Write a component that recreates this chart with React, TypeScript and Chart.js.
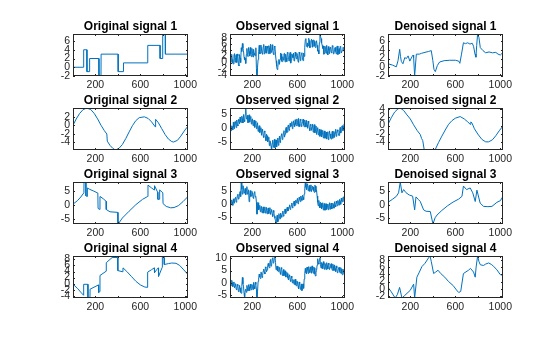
import React, { useEffect, useRef } from 'react';
import { Chart, registerables } from 'chart.js';

Chart.register(...registerables);

// ---------- layout ----------
const COL_LEFT = [73, 230, 388];
const ROW_TOP = [34, 108, 182, 256];
const AX_W = 115;
const AX_H = 42;
const M_L = 42, M_T = 24, M_R = 18, M_B = 16;

const FONT = '"Liberation Sans", Arial, Helvetica, sans-serif';
const LINE = '#0072BD';
const AXIS = '#262626';

// ---------- shared x axis ----------
const X_MIN = 1;
const X_MAX = 1024;
const X_TICKS = [200, 400, 600, 800, 1000];
const X_TICK_LABELS = ['200', '', '600', '', '1000'];
// observed samples: set A at 1, 11, 21, ...; set B at 6, 16, 26, ...
const OBS_A_X0 = 1;
const OBS_B_X0 = 6;
const OBS_STEP = 10;

// ---------- Original signals ----------
const orig1X = [1, 95, 96, 124, 125, 148, 149, 231, 232, 250, 251, 402, 403, 449, 450, 665, 666, 775, 776, 798, 799, 822, 823, 1024];
const orig1Y = [0, 0, 4, 4, -1, -1, 2, 2, -2, -2, 3, 3, -1, -1, 1, 1, 5, 5, 2, 2, 7.6, 7.6, 3, 3];

const orig2X = [1, 30, 60, 90, 124, 160, 190, 220, 250, 280, 302, 306, 330, 355, 378, 410, 440, 470, 500, 530, 560, 590, 636, 670, 700, 733, 736, 760, 790, 820, 850, 880, 896, 930, 960, 990, 1024];
const orig2Y = [0.0, 1.5, 2.8, 3.7, 4.1, 3.7, 2.8, 1.5, 0.0, -1.3, -2.1, -3.8, -4.8, -5.5, -5.9, -5.5, -4.6, -3.2, -1.6, -0.1, 1.1, 1.8, 2.0, 1.6, 0.8, -0.4, 1.4, 0.6, -0.8, -2.2, -3.3, -3.9, -4.0, -3.6, -2.6, -1.4, -0.2];

const orig3X = [1, 40, 70, 98, 99, 115, 116, 128, 129, 150, 180, 222, 224, 240, 241, 270, 296, 297, 330, 399, 401, 403, 440, 500, 560, 620, 665, 668, 700, 724, 726, 754, 756, 770, 772, 800, 802, 830, 870, 900, 940, 980, 1024];
const orig3Y = [0.3, 1.5, 2.8, 4.3, 8.1, 7.8, 3.2, 3.0, 6.0, 5.5, 5.0, 4.2, -1.2, -1.6, 3.0, 2.2, 1.3, -1.6, -2.4, -2.6, -6.7, -6.7, -4.6, -2.2, 0.1, 2.0, 3.0, 7.0, 6.0, 5.3, 6.8, 4.5, 2.0, 2.0, 5.3, 4.3, 0.5, -0.5, -1.0, -0.9, -0.2, 1.2, 3.0];

const orig4X = [1, 40, 70, 95, 96, 133, 134, 152, 153, 228, 229, 240, 241, 296, 297, 349, 399, 400, 445, 446, 480, 520, 560, 600, 640, 664, 665, 700, 724, 726, 745, 760, 762, 795, 796, 812, 813, 850, 880, 917, 950, 980, 1024];
const orig4Y = [-0.2, -1.5, -2.8, -3.8, -0.2, -0.2, -4.7, -4.7, -1.8, -0.4, -2.9, -2.6, 2.7, 4.1, 6.9, 8.6, 8.6, 4.3, 3.9, 5.2, 4.0, 2.4, 0.8, -0.4, -1.1, -1.2, 3.8, 4.6, 5.2, 3.6, 4.6, 5.2, 2.4, 5.4, 9.1, 8.6, 6.3, 6.6, 6.8, 6.7, 6.0, 4.8, 3.0];

// ---------- Observed signals ----------
const obs1A = [
  2.5, 0.3, 1.0, -0.5, 2.9, 1.6, 0.0, 2.1, -1.1, 1.4,
  4.8, 6.2, 3.9, 0.8, -0.3,
  4.6, 2.0, 3.6, 4.9, 1.9, 3.0, 4.3, 2.4, 4.8,
  -4.4, 1.0,
  5.6, 3.1, 4.4, 2.7, 5.9, 4.0, 3.2, 5.3, 2.9, 4.7, 6.0, 3.4, 4.1, 2.6, 5.0,
  0.6, -2.3, 0.1, -0.6,
  3.1, 0.4, 1.9, 2.9, 0.2, 1.5, 3.3, 1.0, 2.4, -0.2, 2.8, 1.6, 0.5, 3.4, 1.2, 2.2, 0.1, 2.7, 1.8, 3.2, 0.6, 2.0,
  7.5, 5.2, 6.4, 7.9, 4.8, 6.0, 7.2, 5.5, 6.9, 4.9, 7.1,
  3.7, 2.8, 9.3, 7.8, 5.6,
  5.4, 3.0, 4.2, 5.6, 2.5, 3.9, 4.8, 3.2, 5.5, 2.8, 4.3, 3.6, 5.1, 2.6, 4.5, 5.3, 3.1, 4.0, 4.9, 3.3,
];
const obs1B = [
  -0.4, 2.7, -0.2, 2.4, 0.1, 2.6, 2.8, -0.7, 2.6, 0.0,
  3.6, 4.6, 1.8, 1.4, 2.6, 2.2, 4.9, 2.1, 2.8, 4.6,
  1.8, 3.0, 2.2, -2.0, -1.5, 3.5, 2.8, 5.7, 3.0, 5.2,
  2.8, 5.4, 3.0, 4.8, 5.5, 2.9, 3.3, 5.8, 2.9, 5.3,
  2.5, -1.2, -1.6, 1.0, 1.0, 2.8, 0.3, 0.8, 3.0, 2.7,
  0.3, 3.0, 0.5, 3.3, 0.9, 2.4, 3.1, 0.8, 2.1, 3.0,
  0.4, 3.4, 0.6, 2.9, 0.9, 3.1, 5.0, 7.8, 5.0, 5.4,
  7.2, 5.1, 7.6, 5.0, 7.4, 5.3, 6.2, 5.6, 4.1, 6.5,
  8.6, 6.4, 4.6, 2.7, 5.3, 3.0, 3.6, 5.2, 2.9, 5.0,
  3.1, 5.2, 3.0, 4.9, 2.8, 5.4, 3.5, 2.9, 5.2, 3.1,
  5.0, 3.8,
];

const obs2A = [
  1.0, -0.9, 0.6, 2.2, -0.2, 1.9, 3.0, 0.8, 2.6, 4.1,
  2.1, 3.5, 5.0, 2.4, 7.4, 3.3, 2.0, 4.9, 3.6, 1.5,
  3.4, 1.8, 0.3, 2.6, 1.0, -1.2, 0.9, -0.3, -2.6, -1.0,
  -3.4, -1.5, -4.6, -2.8, -4.0, -6.4, -5.1, -8.0, -4.4, -6.0,
  -7.2, -4.3, -5.2, -6.3, -2.9, -4.1, -2.0, -3.6, -0.9, -2.2,
  0.3, -1.4, 1.2, -0.1, 0.6, 2.4, 0.3, 1.6, 3.1, 0.9,
  2.2, 3.6, 0.6, 2.8, 1.4, 3.3, 0.5, 2.0, 2.9, 0.0,
  1.7, -0.9, 1.0, 0.4, -1.5, 1.3, -0.6, -2.3, 0.2, -1.8,
  -3.0, -0.6, -2.1, -3.6, -1.0, -2.8, -4.0, -1.3, -3.2, -2.2,
  -4.0, -1.1, -2.5, -3.4, -0.4, -2.0, -1.2, -2.7, 0.3, -1.0,
  0.9, -0.5, 1.5,
];
const obs2B = [
  1.3, 0.8, -0.6, 0.4, 2.4, 0.2, 1.3, 3.2, 1.6, 2.2,
  4.4, 1.9, 3.0, 5.1, 3.6, 4.7, 2.3, 2.2, 4.3, 3.2,
  0.9, 3.0, 2.0, -0.2, 2.0, 0.1, -1.6, 0.2, -0.4, -2.8,
  -1.0, -3.3, -2.2, -5.0, -3.3, -4.6, -6.7, -5.5, -7.0, -4.1,
  -5.0, -6.9, -3.6, -4.6, -5.3, -2.6, -4.2, -1.6, -3.3, -0.2,
  -1.6, 0.8, -0.8, 1.8, 1.0, -0.2, 2.7, 0.6, 1.4, 3.4,
  0.7, 1.5, 3.3, 0.6, 2.4, 1.2, 3.0, 0.4, 1.2, 2.6,
  0.0, 1.4, -0.8, 1.5, 0.3, -1.7, 0.8, -0.9, -2.5, -0.4,
  -1.8, -3.2, -0.8, -2.0, -3.7, -1.4, -2.3, -4.2, -1.0, -3.6,
  -2.0, -3.7, -1.2, -1.8, -3.0, -0.6, -2.6, -0.8, -1.8, 0.8,
  -0.9, 1.6,
];

const obs3A = [
  1.6, -0.2, 0.9, 2.1, 0.4, 2.7, 1.5, 3.9, 2.2, 4.9,
  8.4, 3.9, 6.6, 4.8, 3.7, 6.8, 4.4, 1.0, 5.3, 3.2,
  4.6, 2.3, 4.9, 3.0, -3.8, 0.6, -1.4, -2.9, -0.8, -2.3,
  -3.4, -1.0, -2.6, -3.7, -1.4, -2.2, -3.9, -2.0, -4.7, -3.1,
  -5.4, -7.6, -4.2, -6.0, -4.8, -3.4, -5.0, -2.6, -3.9, -1.8,
  -2.9, -1.1, -2.3, -0.2, -1.5, 0.5, -0.8, 1.2, -0.2, 0.6,
  2.3, 0.8, 1.9, 3.2, 1.5, 2.6, 4.0, 8.6, 5.6, 7.3,
  6.2, 5.0, 7.5, 5.8, 6.6, 4.6, 7.0, 5.4, 0.8, 1.5,
  -1.4, 0.4, -0.9, -2.2, 0.3, -1.2, -2.0, 0.1, -0.7, -1.9,
  0.5, -1.3, -0.2, 1.0, -1.0, 0.4, 1.5, -0.3, 1.1, 2.4,
  0.9, 2.9, 1.7,
];
const obs3B = [
  0.1, 1.7, -0.4, 0.9, 2.4, 0.8, 3.3, 2.0, 4.1, 3.0,
  5.9, 7.2, 4.3, 6.1, 5.5, 3.9, 5.6, 3.4, 3.0, 5.0,
  2.6, 4.5, 2.8, 0.8, -1.0, -2.2, -0.4, -1.6, -3.3, -1.0,
  -2.0, -3.4, -1.2, -2.4, -3.6, -1.3, -2.8, -3.8, -2.4, -4.6,
  -6.4, -5.3, -6.8, -3.6, -5.6, -4.3, -3.4, -4.6, -2.4, -3.6,
  -1.5, -2.6, -0.9, -2.0, -0.4, -1.4, 0.6, -0.7, 1.6, 1.4,
  0.2, 2.7, 1.0, 2.3, 3.5, 1.8, 6.0, 6.6, 7.9, 5.2,
  7.3, 6.4, 4.9, 7.0, 5.2, 7.4, 4.8, 3.2, -0.6, 0.0,
  0.8, -1.7, 0.6, -0.5, -2.3, 0.2, -0.9, -2.1, 0.6, -0.5,
  -1.8, 0.4, -1.5, -0.3, 1.2, -0.6, 0.4, 1.9, 0.0, 1.2,
  2.6, 1.0,
];

const obs4A = [
  0.9, -1.0, 0.2, -0.6, -2.0, -0.3, -2.8, -1.2, -3.6, -2.1,
  -4.2, 2.2, -1.3, -6.1, -2.5, -1.0, -3.2, -1.6, -0.5, -2.8,
  -1.4, 0.2, -2.4, -0.6, -5.8, 0.6, 3.6, 1.8, 4.2, 3.0,
  5.6, 3.6, 6.2, 5.3, 7.9, 6.1, 9.5, 7.0, 10.2, 8.3,
  10.9, 5.3, 6.8, 4.6, 6.2, 3.5, 5.6, 4.3, 2.9, 4.9,
  2.5, 3.8, 1.2, 3.3, 0.6, 2.1, 1.4, -0.6, 1.5, -1.2,
  0.5, -2.4, -0.6, -1.5, -3.1, -0.4, 1.6, 5.9, 3.6, 5.4,
  6.6, 4.2, 5.3, 6.9, 3.9, 6.1, 2.8, 5.0, 9.8, 7.6,
  10.2, 6.0, 7.7, 8.6, 5.5, 6.8, 8.2, 5.6, 7.4, 6.2,
  7.8, 5.1, 6.7, 7.3, 4.6, 6.0, 4.4, 6.3, 4.0, 5.6,
  3.3, 5.0, 4.4,
];
const obs4B = [
  -1.3, 1.1, -1.5, 0.4, -1.2, -2.6, -0.6, -3.5, -1.0, -3.8,
  -1.5, -0.4, -4.2, -3.0, -3.8, -2.2, -0.7, -3.1, -2.0, -0.6,
  -2.7, -1.4, 0.3, -2.6, -3.5, 2.1, 2.4, 4.4, 2.2, 4.8,
  4.4, 6.5, 4.5, 7.0, 6.8, 8.4, 6.8, 9.8, 8.0, 10.6,
  8.2, 6.7, 4.8, 6.5, 4.2, 6.2, 3.0, 5.4, 4.1, 2.4,
  4.3, 2.0, 2.8, 1.1, 2.8, 0.0, 0.6, 1.2, -0.8, 0.8,
  -1.4, 0.4, -2.6, -0.4, -1.0, -2.2, 3.8, 4.2, 6.4, 3.8,
  5.2, 6.5, 3.9, 5.1, 6.4, 3.6, 4.4, 7.2, 8.1, 9.4,
  7.4, 8.3, 5.8, 7.4, 7.9, 5.4, 7.0, 8.0, 5.4, 7.5,
  6.0, 7.6, 5.0, 5.8, 6.9, 4.1, 6.1, 4.6, 6.2, 3.8,
  5.6, 3.6,
];

// ---------- Denoised signals ----------
const den1X = [1, 40, 75, 90, 105, 112, 120, 134, 150, 165, 180, 195, 214, 225, 229, 238, 253, 280, 300, 330, 360, 386, 400, 410, 422, 440, 460, 500, 550, 600, 630, 640, 655, 672, 690, 710, 730, 750, 762, 775, 783, 790, 798, 810, 822, 846, 870, 900, 930, 960, 980, 1000, 1024];
const den1Y = [0.8, 0.5, 0.1, 1.5, 4.1, 2.5, 1.3, 0.8, 2.2, 2.0, 2.6, 1.4, 2.4, 2.8, 2.2, -2.0, 3.0, 3.0, 3.2, 3.4, 3.6, 3.8, 1.5, -0.5, -1.0, 0.4, 1.2, 1.5, 1.6, 1.6, 1.4, 0.9, 3.0, 5.6, 5.4, 5.6, 5.3, 5.5, 4.8, 3.0, 2.3, 5.0, 7.6, 6.8, 4.5, 3.8, 3.3, 3.5, 3.3, 3.4, 3.0, 2.8, 3.4];

const den2X = [1, 30, 60, 90, 110, 140, 170, 200, 228, 260, 288, 300, 310, 323, 350, 380, 421, 450, 480, 510, 540, 570, 600, 643, 680, 710, 732, 738, 748, 770, 800, 836, 870, 896, 930, 960, 990, 1024];
const den2Y = [0.3, 1.9, 3.3, 4.1, 4.3, 3.7, 2.6, 1.6, 0.2, -1.2, -2.2, -3.2, -3.7, -5.9, -6.0, -6.0, -5.9, -4.2, -2.6, -1.1, 0.3, 1.2, 1.8, 2.2, 1.6, 0.9, 0.3, 0.9, 0.6, -0.8, -2.1, -3.4, -4.0, -4.0, -3.5, -2.5, -1.3, -0.1];

const den3X = [1, 40, 75, 95, 110, 125, 140, 160, 190, 220, 238, 250, 270, 288, 318, 340, 377, 401, 420, 437, 480, 530, 580, 630, 659, 672, 700, 732, 755, 777, 792, 821, 851, 890, 926, 970, 1000, 1024];
const den3Y = [0.9, 2.0, 3.1, 4.4, 8.4, 4.4, 5.6, 4.5, 3.6, 3.2, -1.9, 2.9, 2.0, 1.2, -1.9, -2.4, -2.5, -7.1, -4.8, -3.8, -2.1, -0.4, 1.0, 2.1, 3.1, 6.9, 5.6, 6.2, 4.4, 1.2, 5.4, 0.6, -0.6, -0.7, -0.6, 0.9, 1.5, 3.1];

const den4X = [1, 30, 65, 85, 104, 125, 150, 199, 229, 238, 258, 280, 303, 330, 362, 375, 386, 407, 425, 446, 470, 506, 540, 581, 610, 630, 648, 672, 717, 735, 762, 777, 785, 798, 810, 822, 850, 870, 896, 920, 940, 970, 1000, 1024];
const den4Y = [0.4, -0.8, -2.5, -1.5, 0.4, -2.5, -1.8, -0.4, 1.3, -2.5, 3.2, 4.6, 6.1, 7.0, 8.5, 9.0, 7.5, 4.2, 4.6, 5.1, 4.2, 3.2, 2.0, 0.9, -0.3, -1.0, -0.7, 4.2, 5.1, 5.6, 4.6, 3.2, 6.0, 9.0, 7.5, 6.6, 6.4, 6.8, 7.1, 6.7, 6.2, 5.2, 3.9, 3.7];

// ---------- titles and y axes ----------
const TITLES = [
  'Original signal 1', 'Observed signal 1', 'Denoised signal 1',
  'Original signal 2', 'Observed signal 2', 'Denoised signal 2',
  'Original signal 3', 'Observed signal 3', 'Denoised signal 3',
  'Original signal 4', 'Observed signal 4', 'Denoised signal 4',
];
const Y_LIMITS: number[][] = [
  [-2, 7.6], [-4.4, 9.3], [-2, 7.6],
  [-5.9, 4.1], [-8.0, 7.4], [-6.0, 4.3],
  [-6.7, 8.1], [-7.6, 8.6], [-7.1, 8.4],
  [-4.7, 9.1], [-6.1, 10.9], [-2.5, 9.0],
];
const Y_TICKS: number[][] = [
  [-2, 0, 2, 4, 6], [-4, -2, 0, 2, 4, 6, 8], [-2, 0, 2, 4, 6],
  [-4, -2, 0, 2], [-5, 0, 5], [-4, -2, 0, 2, 4],
  [-5, 0, 5], [-5, 0, 5], [-5, 0, 5],
  [-4, -2, 0, 2, 4, 6, 8], [-5, 0, 5, 10], [-2, 0, 2, 4, 6, 8],
];

const pairs = (xs: number[], ys: number[]) => xs.map((x, i) => ({ x, y: ys[i] }));
const obsPairs = (a: number[], b: number[]) => {
  const out: { x: number; y: number }[] = [];
  a.forEach((y, i) => {
    out.push({ x: OBS_A_X0 + i * OBS_STEP, y });
    if (i < b.length) out.push({ x: OBS_B_X0 + i * OBS_STEP, y: b[i] });
  });
  return out;
};

const SERIES = [
  pairs(orig1X, orig1Y), obsPairs(obs1A, obs1B), pairs(den1X, den1Y),
  pairs(orig2X, orig2Y), obsPairs(obs2A, obs2B), pairs(den2X, den2Y),
  pairs(orig3X, orig3Y), obsPairs(obs3A, obs3B), pairs(den3X, den3Y),
  pairs(orig4X, orig4Y), obsPairs(obs4A, obs4B), pairs(den4X, den4Y),
];

const matlabAxes = {
  id: 'matlabAxes',
  afterDraw(chart: any, _args: any, opts: any) {
    const { ctx, chartArea: a } = chart;
    const xs = chart.scales.x;
    const ys = chart.scales.y;
    const L = Math.round(a.left), T = Math.round(a.top), R = Math.round(a.right), B = Math.round(a.bottom);
    ctx.save();
    ctx.strokeStyle = AXIS;
    ctx.lineWidth = 1;
    ctx.beginPath();
    for (const t of xs.ticks) {
      const px = Math.round(xs.getPixelForValue(t.value)) + 0.5;
      ctx.moveTo(px, B); ctx.lineTo(px, B - 2);
      ctx.moveTo(px, T); ctx.lineTo(px, T + 2);
    }
    for (const t of ys.ticks) {
      const py = Math.round(ys.getPixelForValue(t.value)) + 0.5;
      ctx.moveTo(L, py); ctx.lineTo(L + 2, py);
      ctx.moveTo(R, py); ctx.lineTo(R - 2, py);
    }
    ctx.stroke();
    ctx.strokeRect(L + 0.5, T + 0.5, R - L - 1, B - T - 1);
    ctx.fillStyle = '#000';
    ctx.font = `bold 12px ${FONT}`;
    ctx.textAlign = 'center';
    ctx.textBaseline = 'alphabetic';
    ctx.fillText(opts.text, (L + R) / 2, T - 4);
    ctx.restore();
  },
};

function SubPlot({ idx }: { idx: number }) {
  const ref = useRef<HTMLCanvasElement | null>(null);
  const col = idx % 3;
  const row = Math.floor(idx / 3);
  const w = AX_W + M_L + M_R;
  const h = AX_H + M_T + M_B;
  useEffect(() => {
    if (!ref.current) return;
    const ticks = Y_TICKS[idx];
    const [ymin, ymax] = Y_LIMITS[idx];
    const chart = new Chart(ref.current, {
      type: 'line',
      data: {
        datasets: [{
          data: SERIES[idx],
          borderColor: LINE,
          borderWidth: 1,
          pointRadius: 0,
          tension: 0,
          fill: false,
        }],
      },
      options: {
        responsive: false,
        animation: false,
        devicePixelRatio: 1,
        events: [],
        layout: { padding: { left: 0, top: M_T, right: M_R, bottom: 0 } },
        plugins: {
          legend: { display: false },
          tooltip: { enabled: false },
          title: { display: false },
          // @ts-ignore
          matlabAxes: { text: TITLES[idx] },
        },
        scales: {
          x: {
            type: 'linear',
            min: X_MIN,
            max: X_MAX,
            grid: { display: false, drawTicks: false },
            border: { display: false },
            afterBuildTicks: (s: any) => { s.ticks = X_TICKS.map((v) => ({ value: v })); },
            afterFit: (s: any) => { s.height = M_B; s.paddingLeft = 0; s.paddingRight = 0; },
            ticks: {
              autoSkip: false,
              maxRotation: 0,
              padding: 3,
              color: AXIS,
              font: { family: FONT, size: 10.5 },
              callback: (_v: any, i: number) => X_TICK_LABELS[i],
            },
          },
          y: {
            type: 'linear',
            min: ymin,
            max: ymax,
            grid: { display: false, drawTicks: false },
            border: { display: false },
            afterBuildTicks: (s: any) => { s.ticks = ticks.map((v) => ({ value: v })); },
            afterFit: (s: any) => { s.width = M_L; s.paddingTop = 0; s.paddingBottom = 0; },
            ticks: {
              autoSkip: false,
              padding: 3,
              color: AXIS,
              font: { family: FONT, size: 10.5 },
              callback: (v: any) => String(v),
            },
          },
        },
      } as any,
      plugins: [matlabAxes as any],
    });
    return () => chart.destroy();
  }, [idx]);
  return (
    <canvas
      ref={ref}
      width={w}
      height={h}
      style={{
        position: 'absolute',
        left: COL_LEFT[col] - M_L,
        top: ROW_TOP[row] - M_T,
        width: w,
        height: h,
      }}
    />
  );
}

export default function App() {
  return (
    <div
      style={{
        position: 'fixed',
        left: 0,
        top: 0,
        width: 560,
        height: 337,
        background: '#fff',
        overflow: 'hidden',
      }}
    >
      {TITLES.map((_, i) => (
        <SubPlot key={i} idx={i} />
      ))}
    </div>
  );
}
